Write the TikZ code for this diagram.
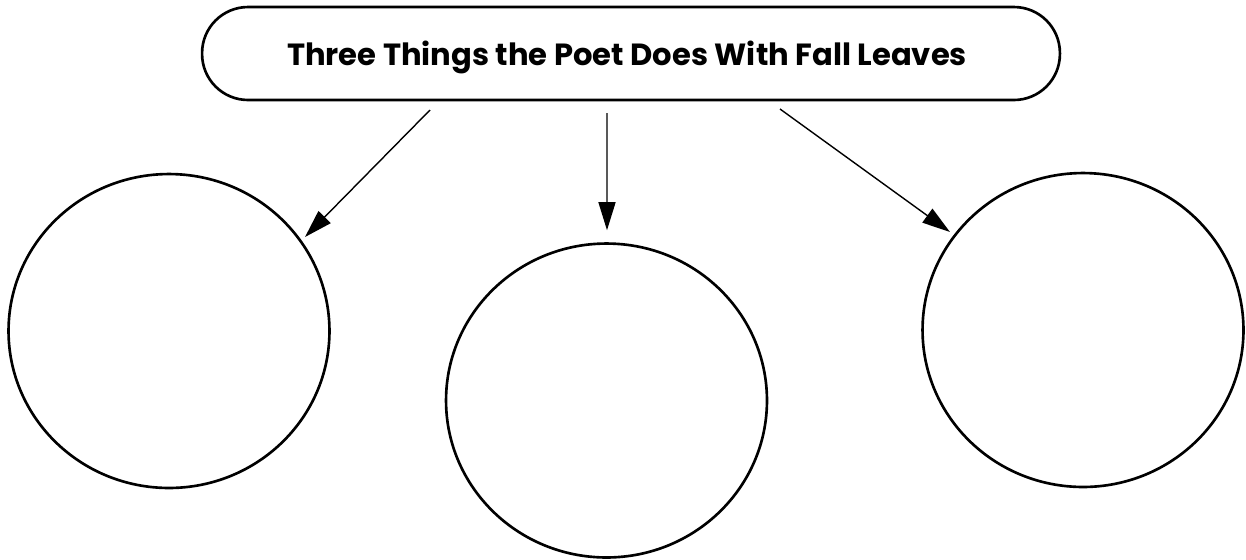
\documentclass[tikz,border=0pt]{standalone}
\usepackage{fontspec}
\newfontfamily\titlefont{Poppins}
\usetikzlibrary{shapes.geometric,arrows.meta,calc}
\begin{document}
\begin{tikzpicture}[x=0.02cm,y=-0.02cm,
  bubble/.style={draw,ellipse,line width=1.5pt,minimum width=6.42cm,minimum height=6.28cm,inner sep=0pt},
  titlebox/.style={draw,rectangle,rounded corners=0.92cm,line width=1.5pt,minimum width=17.16cm,minimum height=1.86cm,inner sep=0pt},
  arr/.style={line width=0.8pt,-{Triangle[length=0.56cm,width=0.34cm]}}]
\useasboundingbox (0,0) rectangle (1246,559);
\node[titlebox] (T) at (631,53.5) {};
\node (Tt) at (627,57) {\resizebox{13.6cm}{!}{\titlefont\bfseries Three Things the Poet Does With Fall Leaves}};
\node[bubble] (L) at (169,331) {};
\node[bubble] (M) at (606.5,400.5) {};
\node[bubble] (R) at (1083,330) {};
\coordinate (s1) at (430,110);
\coordinate (s2) at (607,113);
\coordinate (s3) at (780,109);
\draw[arr] (s1) -- ($(L.center)+(136,-94)$);
\draw[arr] (s2) -- ($(M.north)+(0.5,-12)$);
\draw[arr] (s3) -- ($(R.center)+(-133,-98)$);
\end{tikzpicture}
\end{document}
